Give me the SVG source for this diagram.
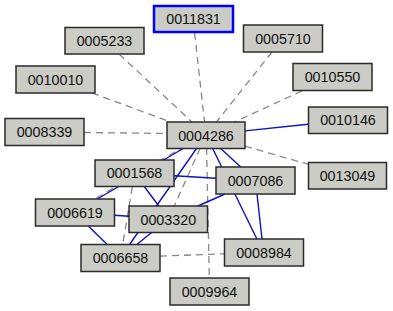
<svg xmlns="http://www.w3.org/2000/svg" width="393" height="311" viewBox="0 0 393 311">
<style>
.n rect{fill:#cbccc5;stroke:#2b2b2b;stroke-width:1.5}
.n text{font-family:"Liberation Sans",Arial,sans-serif;font-size:14.3px;fill:#111;text-anchor:middle}
.d{stroke:#888;stroke-width:1.3;stroke-dasharray:7,5;fill:none}
.s{stroke:#1010cc;stroke-width:1.4;fill:none}
</style>
<rect width="393" height="311" fill="#fff"/>
<g id="edges">
<line class="d" x1="194.6" y1="33" x2="204.5" y2="122"/>
<line class="d" x1="119" y1="54" x2="192" y2="122"/>
<line class="d" x1="92" y1="93" x2="170.8" y2="122"/>
<line class="d" x1="84" y1="132.5" x2="167" y2="133.5"/>
<line class="d" x1="272" y1="52" x2="216.4" y2="122"/>
<line class="d" x1="302" y1="91" x2="234.4" y2="122"/>
<line class="d" x1="245" y1="146.2" x2="308" y2="164.2"/>
<line class="d" x1="206.6" y1="148" x2="209.3" y2="278"/>
<line class="d" x1="200.2" y1="148" x2="174.3" y2="206"/>
<line class="d" x1="132.3" y1="187" x2="122.8" y2="244"/>
<line class="d" x1="160" y1="256.1" x2="224" y2="253.8"/>
<line class="d" x1="96.5" y1="198" x2="182.8" y2="147.3"/>
<line class="s" x1="245" y1="130.9" x2="308" y2="124.2"/>
<line class="s" x1="184" y1="148" x2="97.4" y2="199"/>
<line class="s" x1="196.9" y1="148" x2="129.9" y2="244"/>
<line class="s" x1="220.1" y1="148" x2="240.8" y2="167"/>
<line class="s" x1="212.4" y1="148" x2="256.9" y2="239"/>
<line class="s" x1="174" y1="175.8" x2="216" y2="178.2"/>
<line class="s" x1="144.6" y1="187" x2="158.8" y2="206"/>
<line class="s" x1="114" y1="215.2" x2="129" y2="216.3"/>
<line class="s" x1="88.3" y1="226" x2="106.7" y2="244"/>
<line class="s" x1="152.3" y1="232" x2="137.3" y2="244"/>
<line class="s" x1="225" y1="194" x2="197.9" y2="206"/>
<line class="s" x1="257" y1="194" x2="262" y2="239"/>
</g>
<g id="n0011831" class="n"><rect x="154" y="6" width="79" height="26" style="stroke:#0000ff;stroke-width:2.5"/><text x="193.5" y="24">0011831</text></g>
<g id="n0005233" class="n"><rect x="65" y="27.5" width="79" height="26.5"/><text x="104.5" y="45.5">0005233</text></g>
<g id="n0010010" class="n"><rect x="16" y="66" width="79" height="27"/><text x="55.5" y="84.5">0010010</text></g>
<g id="n0008339" class="n"><rect x="5" y="118.5" width="79" height="27"/><text x="44.5" y="137">0008339</text></g>
<g id="n0004286" class="n"><rect x="167" y="122" width="78" height="26.5"/><text x="206" y="140.5">0004286</text></g>
<g id="n0005710" class="n"><rect x="243.5" y="25" width="79" height="27"/><text x="283" y="43.5">0005710</text></g>
<g id="n0010550" class="n"><rect x="293" y="63.5" width="79" height="27"/><text x="332.5" y="82">0010550</text></g>
<g id="n0010146" class="n"><rect x="308.5" y="107" width="79" height="26.5"/><text x="348" y="125">0010146</text></g>
<g id="n0013049" class="n"><rect x="308.5" y="162.5" width="78" height="26.5"/><text x="347.5" y="180.5">0013049</text></g>
<g id="n0007086" class="n"><rect x="216" y="167" width="79" height="27"/><text x="255.5" y="185.5">0007086</text></g>
<g id="n0001568" class="n"><rect x="95" y="160" width="79" height="26.5"/><text x="134.5" y="178">0001568</text></g>
<g id="n0006619" class="n"><rect x="35.5" y="199" width="79" height="27"/><text x="75" y="217.5">0006619</text></g>
<g id="n0003320" class="n"><rect x="129" y="206" width="78.5" height="26.5"/><text x="168.3" y="224.5">0003320</text></g>
<g id="n0006658" class="n"><rect x="81" y="244.5" width="79" height="27"/><text x="120.5" y="263">0006658</text></g>
<g id="n0008984" class="n"><rect x="224.5" y="239" width="79" height="27"/><text x="264" y="257.5">0008984</text></g>
<g id="n0009964" class="n"><rect x="170" y="278" width="79" height="27"/><text x="209.5" y="296.5">0009964</text></g>
</svg>
